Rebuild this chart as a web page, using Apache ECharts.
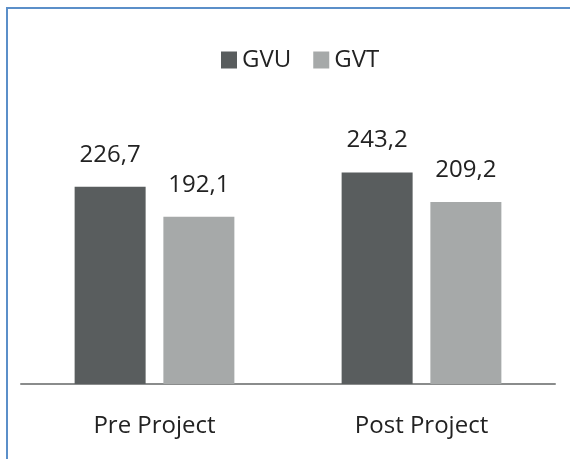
<!DOCTYPE html>
<html>
<head>
<meta charset="utf-8">
<script src="https://cdn.jsdelivr.net/npm/echarts@6/dist/echarts.min.js"></script>
<style>
	body { margin: 0; background: #fff; }
	#frame { position: absolute; left: 6px; top: 7px; width: 570px; height: 459px; border-top: 2px solid #5b8fc9; border-left: 2px solid #5b8fc9; }
	#chart { position: absolute; left: 0; top: 0; width: 570px; height: 459px; }
</style>
</head>
<body>
<div id="frame"></div>
<div id="chart"></div>
<script>
var categories = [ 'Pre Project', 'Post Project' ];
var gvu = [ 226.7, 243.2 ];
var gvt = [ 192.1, 209.2 ];
var seriesNames = [ 'GVU', 'GVT' ];

var fontFamily = '"Open Sans", sans-serif';

function fmt(p) {
	return p.value.toFixed(1).replace('.', ',');
}

var myChart = echarts.init(document.getElementById('chart'));
var option = {
	animation : false,
	textStyle : {
		fontFamily : fontFamily
	},
	legend : {
		data : seriesNames,
		left : 216,
		top : 43,
		itemWidth : 16,
		itemHeight : 17,
		itemGap : 22,
		icon : 'rect',
		textStyle : {
			fontSize : 24,
			color : '#222',
			fontFamily : fontFamily
		}
	},
	grid : {
		left : 21,
		right : 15,
		top : 123,
		bottom : 75
	},
	xAxis : [ {
		type : 'category',
		data : categories,
		axisLine : {
			lineStyle : {
				color : '#8a8c8c',
				width : 2
			}
		},
		axisTick : {
			show : false
		},
		axisLabel : {
			fontSize : 24,
			color : '#222',
			margin : 30,
			fontFamily : fontFamily
		}
	} ],
	yAxis : [ {
		type : 'value',
		min : 0,
		max : 300,
		show : false,
		splitLine : {
			show : false
		}
	} ],
	series : [ {
		name : 'GVU',
		type : 'bar',
		data : gvu,
		barWidth : 71,
		barGap : '25%',
		itemStyle : {
			color : '#595d5e'
		},
		label : {
			show : true,
			position : 'top',
			distance : 20,
			fontSize : 24,
			color : '#222',
			fontFamily : fontFamily,
			formatter : fmt
		}
	}, {
		name : 'GVT',
		type : 'bar',
		data : gvt,
		barWidth : 71,
		itemStyle : {
			color : '#a6a9a9'
		},
		label : {
			show : true,
			position : 'top',
			distance : 20,
			fontSize : 24,
			color : '#222',
			fontFamily : fontFamily,
			formatter : fmt
		}
	} ]
};
myChart.setOption(option);
</script>
</body>
</html>
